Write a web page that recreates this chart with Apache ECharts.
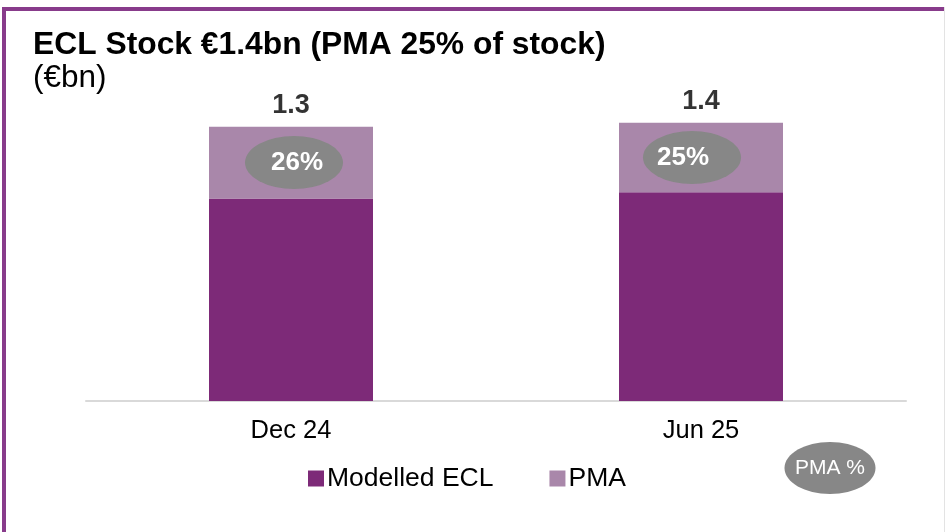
<!DOCTYPE html>
<html>
<head>
<meta charset="utf-8">
<script src="https://cdn.jsdelivr.net/npm/echarts@6/dist/echarts.min.js"></script>
<style>
  html, body { margin: 0; padding: 0; background: #fff; }
  #chart { width: 946px; height: 532px; }
</style>
</head>
<body>
<div id="chart"></div>
<script>
// data (€bn)
const categories = ['Dec 24', 'Jun 25'];
const modelledEcl = [0.99, 1.02];
const pma = [0.35, 0.34];
const totalLabels = ['1.3', '1.4'];
const pmaPctLabels = ['26%', '25%'];

const font = '"Liberation Sans", Arial, sans-serif';
const chart = echarts.init(document.getElementById('chart'));

// ellipse markers sit in the middle of the PMA segment
const pmaMid = modelledEcl.map((v, i) => v + pma[i] / 2);
const totals = modelledEcl.map((v, i) => v + pma[i]);

const option = {
  backgroundColor: '#fff',
  animation: false,
  textStyle: { fontFamily: font },
  title: [
    {
      text: 'ECL Stock €1.4bn (PMA 25% of stock)',
      left: 28, top: 24,
      textStyle: { fontSize: 31.8, fontWeight: 'bold', color: '#000', fontFamily: font }
    },
    {
      text: '(€bn)',
      left: 28, top: 57,
      textStyle: { fontSize: 31.5, fontWeight: 'normal', color: '#000', fontFamily: font }
    }
  ],
  legend: {
    data: ['Modelled ECL', 'PMA'],
    left: 303, top: 460,
    icon: 'rect',
    itemWidth: 16, itemHeight: 16,
    itemGap: 56,
    textStyle: { fontSize: 26.5, color: '#000', fontFamily: font, padding: [0, 0, 0, -2] }
  },
  grid: { left: 86, right: 40, top: 94, bottom: 131 },
  xAxis: {
    type: 'category',
    data: categories,
    axisLine: { lineStyle: { color: '#d9d9d9', width: 2 } },
    axisTick: { show: false },
    axisLabel: { fontSize: 25.5, color: '#000', margin: 17, fontFamily: font }
  },
  yAxis: {
    type: 'value',
    min: 0, max: 1.5,
    show: false,
    splitLine: { show: false }
  },
  series: [
    {
      name: 'Modelled ECL',
      type: 'bar',
      stack: 'ecl',
      barWidth: 164,
      data: modelledEcl,
      itemStyle: { color: '#7d2a78' }
    },
    {
      name: 'PMA',
      type: 'bar',
      stack: 'ecl',
      barWidth: 164,
      data: pma,
      itemStyle: { color: '#a987aa' }
    },
    {
      name: 'pct',
      type: 'scatter',
      symbol: 'circle',
      symbolSize: [98, 53],
      data: pmaMid.map((v, i) => ({
        value: v,
        symbolOffset: [i === 0 ? 3 : -9, 0],
        label: { offset: [i === 0 ? 3 : -9, 0] }
      })),
      itemStyle: { color: '#878787', opacity: 1 },
      label: {
        show: true,
        position: 'inside',
        formatter: p => pmaPctLabels[p.dataIndex],
        color: '#fff', fontSize: 26, fontWeight: 'bold', fontFamily: font
      },
      z: 5
    },
    {
      name: 'total',
      type: 'scatter',
      symbolSize: 0,
      data: totals,
      label: {
        show: true,
        position: 'top',
        distance: 8,
        formatter: p => totalLabels[p.dataIndex],
        color: '#000', fontSize: 27, fontWeight: 'bold', fontFamily: font
      }
    }
  ],
  graphic: [
    // frame
    { type: 'rect', shape: { x: 2, y: 7, width: 4, height: 530 }, style: { fill: '#883b8b' } },
    { type: 'rect', shape: { x: 2, y: 7, width: 942, height: 4 }, style: { fill: '#883b8b' } },
    { type: 'rect', shape: { x: 944, y: 7, width: 1, height: 530 }, style: { fill: '#e3e3e3' } },
    // PMA % key
    {
      type: 'ellipse',
      shape: { cx: 830, cy: 468, rx: 45.5, ry: 26 },
      style: { fill: '#878787' }
    },
    {
      type: 'text',
      x: 830, y: 468,
      style: {
        text: 'PMA %', fill: '#fff', fontSize: 21, fontFamily: font,
        align: 'center', verticalAlign: 'middle'
      }
    }
  ]
};

chart.setOption(option);
</script>
</body>
</html>
